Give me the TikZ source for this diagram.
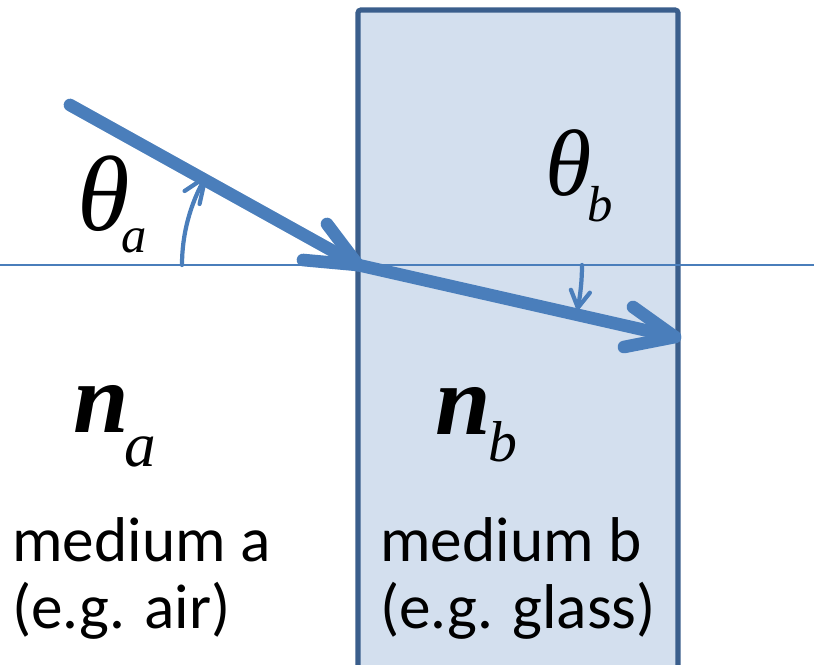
\documentclass[tikz,border=0pt]{standalone}
\usepackage{fontspec}
\setmainfont{Carlito}
\newfontfamily\symfont{Liberation Serif}

\begin{document}
\begin{tikzpicture}[x=0.025cm, y=0.025cm,
  ray/.style={line width=9pt, draw=raycol, line cap=round, line join=round},
  anglearc/.style={line width=3pt, draw=raycol, line cap=round, line join=round},
  medium/.style={align=left, inner sep=0pt, anchor=base west,
    font=\fontsize{45}{47}\selectfont},
  symb/.style={inner sep=0pt, anchor=base west, font=\symfont}]

% Define colors
\definecolor{raycol}{RGB}{74,126,187}
\definecolor{glass}{RGB}{211,223,238}
\definecolor{glassedge}{RGB}{58,94,140}

\useasboundingbox (0,0) rectangle (814,664);

% Draw the glass block
\draw[fill=glass, draw=glassedge, line width=3.6pt, rounded corners=2pt]
  (358,-20) rectangle (678,654);

% Draw the interface line
\coordinate (O) at (358,399);
\coordinate (west) at (0,399);
\coordinate (east) at (814,399);
\draw[raycol, line width=1.1pt] (west) -- (east);

% Draw the rays with open heads
\coordinate (src) at (70,559);
\coordinate (dst) at (675,327);
\draw[ray] (src) -- (O);
\draw[ray] (O) ++(-31,41) -- (O) -- ++(-55,5);
\draw[ray] (O) -- (dst);
\draw[ray] (dst) ++(-42,30) -- (dst) -- ++(-51,-10);

% Draw the angles
\draw[anglearc] (O) ++(180:176) arc[start angle=180, end angle=150, radius=176]
  coordinate (tipA);
\draw[anglearc] (tipA) ++(-21,-14) -- (tipA) -- ++(-6,-27);
\draw[anglearc] (O) ++(0:224) arc[start angle=0, end angle=-11, radius=224]
  coordinate (tipB);
\draw[anglearc] (tipB) ++(-7,18) -- (tipB) -- ++(12,15);

% Symbols
\node[symb] (thetaA) at (77,433)
  {\fontsize{76}{76}\selectfont\itshape θ\kern-6pt\raisebox{-15pt}{\fontsize{36}{36}\selectfont a}};
\node[symb] (thetaB) at (545,468)
  {\fontsize{67}{67}\selectfont\itshape θ\kern-3pt\raisebox{-18pt}{\fontsize{36}{36}\selectfont b}};
\node[symb] (nA) at (73,231)
  {\fontsize{71}{71}\selectfont\bfseries\itshape n\kern-3pt\raisebox{-24pt}{\fontsize{45}{45}\selectfont\mdseries a}};
\node[symb] (nB) at (435,229)
  {\fontsize{71}{71}\selectfont\bfseries\itshape n\kern-2pt\raisebox{-19pt}{\fontsize{41}{41}\selectfont\mdseries b}};

% Medium labels
\node[medium] (medA) at (12,36) {medium a\\(e.g. air)};
\node[medium] (medB) at (380,36) {medium b\\(e.g. glass)};

\end{tikzpicture}
\end{document}
